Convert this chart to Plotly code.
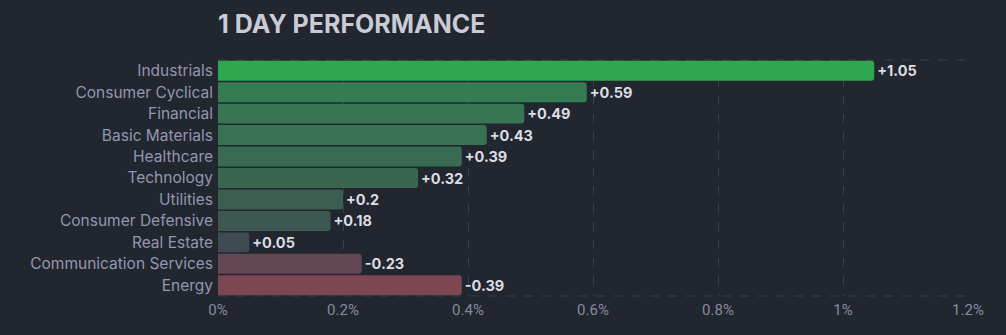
import plotly.graph_objects as go

sectors = ["Industrials", "Consumer Cyclical", "Financial", "Basic Materials", "Healthcare",
           "Technology", "Utilities", "Consumer Defensive", "Real Estate",
           "Communication Services", "Energy"]
changes = [1.05, 0.59, 0.49, 0.43, 0.39, 0.32, 0.2, 0.18, 0.05, -0.23, -0.39]
bar_colors = ["#2ea74f", "#367c52", "#377553", "#377252", "#386b51", "#3a6651",
              "#3b5e51", "#3d5751", "#3f4a53", "#634755", "#7d4653"]
x_ticks = [0, 0.2, 0.4, 0.6, 0.8, 1.0, 1.2]
x_tick_labels = ["0%", "0.2%", "0.4%", "0.6%", "0.8%", "1%", "1.2%"]

BG = "#22262f"
GRID = "#3b404c"

fig = go.Figure(go.Bar(
    y=sectors,
    x=[abs(v) for v in changes],
    orientation="h",
    marker=dict(color=bar_colors, line=dict(width=0)),
    text=[f"{v:+g}" for v in changes],
    textposition="outside",
    textfont=dict(family="Inter, Roboto, sans-serif", size=14.5, color="#dcdde3", weight="bold"),
    cliponaxis=False,
    hoverinfo="skip",
))

fig.update_layout(
    width=1006, height=335,
    paper_bgcolor=BG, plot_bgcolor=BG,
    margin=dict(l=218, r=38, t=60, b=39),
    bargap=0.07,
    barcornerradius=3,
    showlegend=False,
    title=dict(text="<b>1 DAY PERFORMANCE</b>", x=218/1006, xanchor="left",
               y=1 - 24/335, yanchor="middle",
               font=dict(family="Inter, Roboto, sans-serif", size=25, color="#c9cbd7")),
    xaxis=dict(range=[0, 1.2], tickmode="array", tickvals=x_ticks, ticktext=x_tick_labels,
               showgrid=True, gridcolor=GRID, griddash="dash", gridwidth=1, zeroline=False,
               tickfont=dict(family="Roboto, sans-serif", size=15, color="#858aa0"),
               ticks="", showline=False, ticklabelstandoff=3),
    yaxis=dict(autorange="reversed", showgrid=False, zeroline=False, ticks="",
               tickfont=dict(family="Inter, Roboto, sans-serif", size=15.5, color="#9397b0"),
               ticklabelstandoff=4),
    shapes=[
        dict(type="line", xref="paper", yref="paper", x0=0, x1=1, y0=1, y1=1,
             line=dict(color=GRID, width=1, dash="dash"), layer="below"),
        dict(type="line", xref="paper", yref="paper", x0=0, x1=1, y0=0, y1=0,
             line=dict(color=GRID, width=1, dash="dash"), layer="below"),
    ],
)

fig.write_html("out.html")
